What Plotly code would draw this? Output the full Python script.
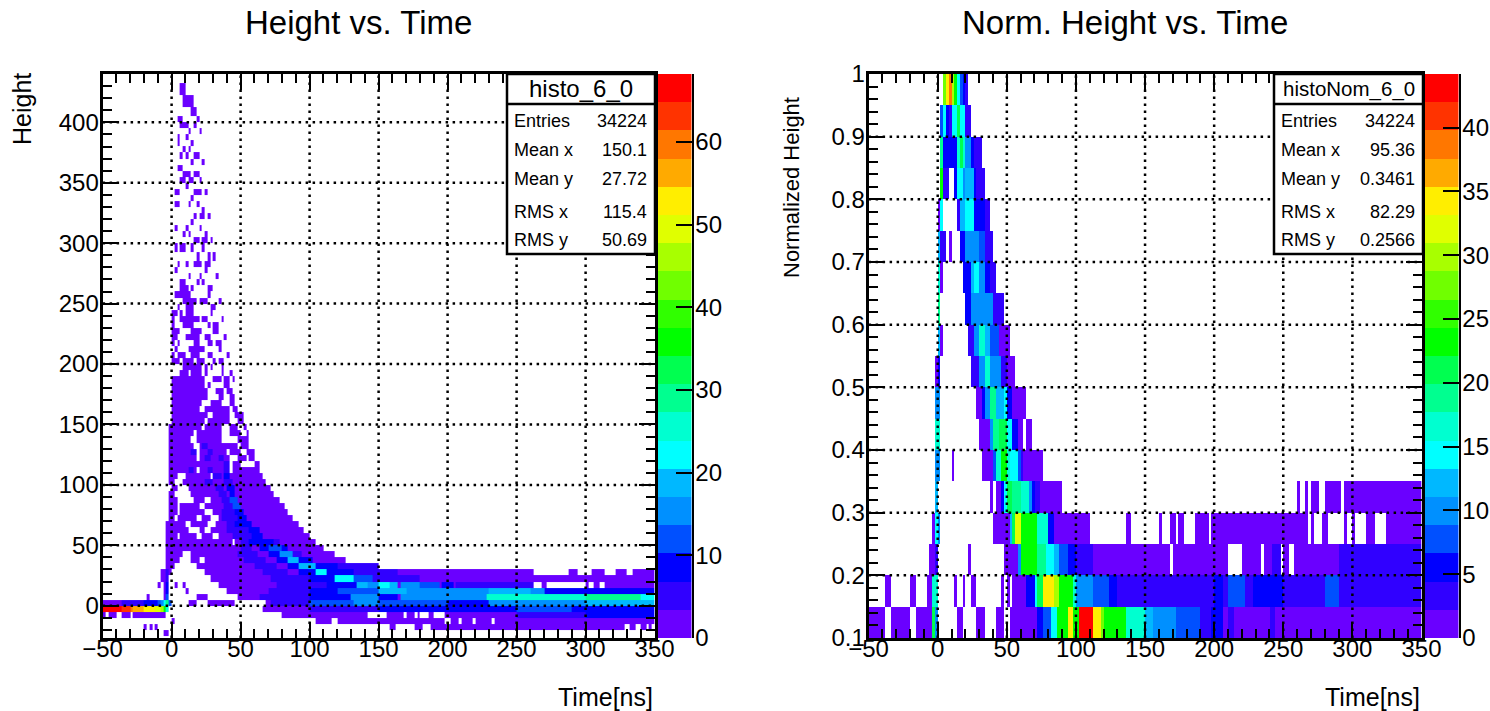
import plotly.graph_objects as go

PALETTE = ["#6a00ff","#3000ff","#0000ff","#0050ff","#0090ff","#00b8ff","#00ffff","#00ffd0","#00ff90","#00ff50",
           "#00ff00","#30ff00","#70ff00","#a8ff00","#e0ff00","#ffee00","#ffaa00","#ff7700","#ff3300","#ff0000"]
X_TICKS = [-50,0,50,100,150,200,250,300,350]
LEFT_Y_TICKS = [0,50,100,150,200,250,300,350,400]
RIGHT_Y_TICKS = [0.1,0.2,0.3,0.4,0.5,0.6,0.7,0.8,0.9,1.0]
RIGHT_Y_LABELS = ["0.1","0.2","0.3","0.4","0.5","0.6","0.7","0.8","0.9","1"]
LEFT_CB_TICKS = [0,10,20,30,40,50,60]
RIGHT_CB_TICKS = [0,5,10,15,20,25,30,35,40]
LEFT_STATS = [("Entries","34224"),("Mean x","150.1"),("Mean y","27.72"),("RMS x","115.4"),("RMS y","50.69")]
RIGHT_STATS = [("Entries","34224"),("Mean x","95.36"),("Mean y","0.3461"),("RMS x","82.29"),("RMS y","0.2566")]

# Left histogram: y-bin lower edge -> occupied (x from, x to) ns ranges, lowest occupancy
LEFT_ROWS = {
425:[(6,10)],415:[(10,14),(8,10),(12,16)],405:[(14,18)],400:[(4,6),(6,8),(18,20)],
395:[(6,12),(16,18)],390:[(12,14),(20,22)],385:[(4,6),(10,12)],380:[(4,6),(14,16)],
375:[(8,10),(12,14)],370:[(6,8),(10,12),(16,20)],365:[(14,16),(22,24)],360:[(4,8)],
355:[(8,14),(16,20)],350:[(6,10),(12,16),(20,22)],345:[(10,12)],340:[(2,6),(16,22),(24,26)],
335:[(14,16)],330:[(2,6),(12,14),(18,20)],325:[(22,24)],320:[(16,18),(20,24),(26,28)],
315:[(14,16)],310:[(2,4),(10,12),(20,22)],305:[(8,10),(12,14),(24,26)],
300:[(16,20),(22,26),(28,30)],295:[(2,4),(6,10),(14,16),(22,24)],
285:[(18,20),(26,28),(30,32)],280:[(4,6),(10,12),(16,22),(24,28)],275:[(2,4),(24,26)],
270:[(12,14),(20,22),(32,34)],265:[(6,10),(18,20),(22,24)],260:[(6,12),(14,16),(26,30)],
255:[(2,14),(26,28)],250:[(8,18),(20,26),(34,36)],245:[(4,6),(10,16),(28,32)],
240:[(0,4),(6,8),(10,16),(28,30)],235:[(0,2),(6,20),(22,26),(36,38)],
230:[(0,2),(8,16),(26,28),(30,34)],225:[(0,6),(14,22),(30,34)],
220:[(0,4),(10,20),(24,28),(38,40)],215:[(0,2),(4,6),(16,20),(26,30),(32,36)],
210:[(2,4),(12,24),(34,36)],205:[(0,2),(4,10),(14,20),(26,30),(40,42)],
200:[(0,6),(8,16),(18,24),(30,32),(34,38)],195:[(8,22),(24,26),(28,30),(36,38)],
190:[(6,12),(14,23),(24,26),(36,38),(42,44)],185:[(0,24),(30,36),(38,42),(44,46)],
180:[(0,24),(26,28),(38,42)],175:[(0,26),(32,38),(40,44)],170:[(0,26),(34,38),(42,46)],
165:[(0,22),(28,36),(42,46)],160:[(0,20),(24,42),(44,48)],155:[(0,26),(30,42),(46,52)],
150:[(0,24),(26,42),(48,52)],145:[(-2,22),(24,36),(42,48),(52,54)],
140:[(-2,16),(18,36),(42,50),(54,56)],135:[(-2,14),(18,36),(48,56)],
130:[(-2,16),(20,48),(50,56)],125:[(-2,18),(20,40),(42,50),(54,60)],
120:[(-2,18),(20,42),(48,54),(56,60)],115:[(-2,42),(44,50),(60,64)],
110:[(-2,18),(20,42),(44,64)],105:[(-2,4),(10,28),(30,66)],100:[(-2,2),(8,68)],
95:[(0,4),(12,72)],90:[(-2,2),(14,74)],85:[(-2,4),(16,24),(28,78)],
80:[(-2,4),(6,20),(24,26),(26,82)],75:[(-2,4),(6,24),(30,84)],70:[(-2,2),(4,18),(22,28),(34,88)],
65:[(-4,10),(14,26),(32,92)],60:[(-4,12),(20,24),(28,96)],55:[(-4,4),(6,18),(22,30),(34,100)],
50:[(-4,44),(46,104)],45:[(-4,110)],40:[(-4,8),(14,118)],35:[(-4,6),(14,20),(24,126)],
30:[(-4,2),(18,150)],25:[(-8,0),(24,262),(288,294),(304,314),(322,330),(334,350)],
20:[(-8,-2),(28,350)],
15:[(-10,-8),(-6,-2),(2,4),(8,10),(34,262),(268,272),(300,302),(306,310),(314,350)],
10:[(-6,-2),(10,12),(40,350)],5:[(-6,-2),(-18,-16),(18,26),(48,350)],
0:[(-50,0),(12,18),(26,46),(68,350)],-5:[(-50,-2),(66,350)],
-10:[(-50,-48),(-46,-40),(-36,-30),(-28,-4),(80,143),(156,168),(170,176),(178,180),(186,190),(197,350)],
-15:[(0,2),(104,116),(120,199),(201,208),(210,218),(220,232),(234,350)],
-20:[(-20,-18),(-16,-14),(-12,-10),(158,162),(175,182),(188,328),(332,336),(340,344),(346,348)],
-25:[(-6,-2)],
}
# Left histogram: (y-bin lower edge, x from, x to, count) where occupancy is moderately higher
LEFT_MID = [
(125,14,18,5),(120,24,28,5),(110,12,16,5),(110,26,30,5),(105,30,36,5),(100,24,30,5),(95,32,38,5),(90,34,40,5),
(85,36,42,5),(80,38,44,5),(80,20,24,5),(75,36,46,5),(70,36,48,5),(65,40,50,5),(60,40,56,5),(55,44,58,5),
(50,50,64,5),(45,50,58,5),(40,48,62,5),(35,52,68,5),(30,60,76,5),(25,66,84,5),(20,72,88,5),(15,76,92,5),
(10,70,84,5),(5,64,76,5),(65,46,50,9),(50,56,64,9),(45,64,70,9),(40,70,78,9),(35,76,84,9),(30,84,92,9),(25,92,104,9),
]
# Left histogram: (y-bin lower edge, x from, x to, count) where occupancy is higher
LEFT_HIGH = [
(0,-50,-36,2),(0,-36,-20,5),(0,-20,-10,9),(0,-10,-8,12),(0,-8,-6,15),(0,-6,-4,22),(0,-4,-2,29),(0,-2,0,12),
(-5,-50,-36,66),(-5,-36,-30,63),(-5,-30,-28,60),(-5,-28,-20,56),(-5,-20,-12,53),(-5,-12,-8,50),(-5,-8,-6,46),(-5,-6,-4,36),(-5,-4,-2,26),
(5,-4,-2,12),(10,-4,-2,9),(15,-4,-2,9),(20,-4,-2,5),(25,-4,-2,5),
(130,22,26,5),(125,26,30,5),(120,34,38,5),(115,38,42,5),(110,38,44,5),(105,38,42,9),(100,38,44,5),
(95,40,46,9),(90,42,46,9),(85,42,48,12),(80,44,50,12),(75,46,52,9),(70,48,54,9),(65,50,58,9),
(60,56,64,9),(55,58,66,9),(50,64,74,9),(50,74,78,5),(45,70,80,12),(45,80,84,9),
(40,78,88,15),(40,88,94,5),(35,84,92,19),(35,92,102,9),
(30,92,104,19),(30,104,120,9),(30,120,150,5),
(25,104,112,22),(25,112,132,9),(25,132,150,5),(25,150,164,5),
(20,88,100,5),(20,100,118,9),(20,118,132,22),(20,132,146,12),(20,146,180,5),
(15,92,112,5),(15,112,134,9),(15,134,142,19),(15,142,150,15),(15,150,158,22),(15,158,165,19),(15,165,180,15),(15,180,195,12),(15,195,205,9),(15,205,262,5),
(10,84,100,5),(10,100,120,9),(10,120,150,12),(10,150,170,19),(10,170,230,15),(10,230,260,19),(10,260,270,15),(10,270,350,9),
(5,76,100,5),(5,100,130,9),(5,130,150,15),(5,150,165,9),(5,165,180,15),(5,180,228,15),(5,228,250,26),(5,250,300,26),(5,300,340,29),(5,340,350,22),
(0,72,100,5),(0,100,132,12),(0,132,150,15),(0,150,200,12),(0,200,230,9),(0,230,250,15),(0,250,300,15),(0,300,350,19),
(-5,100,150,5),(-5,150,250,9),(-5,250,290,12),(-5,290,350,9),
(-10,250,300,5),(-10,300,350,9),
]

# Right histogram: y-bin lower edge -> (x from, x to, count)
RIGHT_ROWS = {
0.10:[(-50,-38,1),(-34,-20,1),(-16,-4,1),(-4,-2,21),(-2,0,10),(14,18,1),(28,34,1),(42,48,1),(52,72,1),(72,76,6),(76,82,8),
      (82,86,14),(86,94,23),(94,98,34),(98,102,23),(102,112,43),(112,118,34),(118,120,28),(120,136,23),(136,150,17),(150,156,12),
      (156,172,10),(172,190,8),(190,198,3),(198,206,6),(206,210,1),(210,214,3),(214,240,1),(240,244,3),(244,350,1)],
0.15:[(-38,-34,1),(-20,-16,1),(-8,-4,1),(-4,0,17),(12,14,1),(18,20,1),(24,28,1),(46,48,1),(50,52,1),(54,64,1),(64,70,6),(70,72,14),
      (72,76,21),(76,84,34),(84,88,30),(88,98,23),(98,100,17),(100,112,10),(112,124,8),(124,130,6),(130,200,3),(200,206,6),(206,210,3),
      (210,222,8),(222,228,3),(228,250,6),(250,280,3),(280,290,8),(290,350,3)],
0.20:[(-6,-2,1),(-2,0,3),(22,24,1),(48,58,1),(58,60,10),(60,72,23),(72,78,19),(78,84,14),(84,88,12),(88,94,8),(94,100,6),(100,112,3),
      (112,168,1),(169,210,1),(220,235,1),(236,242,1),(242,248,3),(250,254,1),(258,290,1),(290,350,3)],
0.25:[(-4,-2,1),(-2,0,14),(0,2,10),(40,52,1),(52,54,12),(54,56,21),(56,60,32),(60,72,23),(72,80,17),(80,84,6),(84,110,1),(136,140,1),
      (160,162,1),(168,172,1),(174,178,1),(186,196,1),(198,262,1),(262,268,1),(270,272,1),(278,282,1),(294,296,1),(300,302,1),(310,316,1),(324,350,1)],
0.30:[(-2,0,12),(38,40,1),(42,46,1),(46,48,6),(48,50,14),(50,54,21),(54,60,19),(60,66,17),(66,68,10),(68,70,6),(70,74,3),(74,90,1),
      (260,262,1),(266,268,1),(270,276,1),(280,292,1),(294,350,1)],
0.35:[(-2,2,10),(10,12,1),(32,40,1),(40,42,8),(42,46,17),(46,50,23),(50,52,17),(52,58,14),(58,60,8),(60,62,3),(62,76,1)],
0.40:[(-2,2,17),(30,38,1),(38,40,10),(40,44,19),(44,50,21),(50,54,14),(54,58,6),(58,62,1),(64,68,1)],
0.45:[(-2,2,10),(28,32,1),(32,34,6),(34,38,10),(38,42,19),(42,48,12),(48,50,14),(50,54,6),(54,64,1)],
0.50:[(-2,0,1),(0,2,6),(24,30,3),(30,34,10),(34,38,17),(38,46,10),(46,50,3),(50,56,1)],
0.55:[(0,2,12),(2,4,1),(22,26,3),(26,30,10),(30,34,17),(34,38,12),(38,44,8),(44,52,1)],
0.60:[(0,2,19),(20,24,6),(24,40,10),(40,48,3)],
0.65:[(0,2,17),(2,4,1),(18,24,6),(24,26,12),(26,30,14),(30,34,10),(34,38,6),(38,42,3)],
0.70:[(0,2,12),(2,6,3),(8,10,1),(16,20,6),(20,30,10),(30,34,8),(34,40,3)],
0.75:[(0,2,1),(2,4,14),(14,16,3),(16,20,12),(20,26,14),(26,34,6),(34,38,3)],
0.80:[(2,4,23),(4,8,3),(12,14,6),(14,18,14),(18,20,10),(20,26,12),(26,28,6),(28,34,3)],
0.85:[(2,4,19),(4,12,6),(12,14,6),(14,16,17),(16,18,21),(18,20,17),(20,24,10),(24,26,6),(26,32,3)],
0.90:[(2,4,8),(4,6,14),(6,8,6),(8,10,3),(10,14,14),(14,16,21),(16,20,14),(20,24,3)],
0.95:[(4,6,28),(6,8,34),(8,10,39),(10,12,30),(12,14,23),(14,16,14),(16,18,8),(18,20,6),(20,22,3)],
}

X_CENTRES = [-49 + 2*i for i in range(200)]
W, H = 1490, 711
TOP, BOTTOM = 74, 638

def fx(p): return p / W
def fy(p): return 1 - p / H

def put(row, x0, x1, v):
    for i in range(200):
        if x0 <= X_CENTRES[i] - 1 and X_CENTRES[i] + 1 <= x1 + 0.99:
            row[i] = v

left_bases = sorted(LEFT_ROWS)
left_z = []
for b in left_bases:
    row = [None]*200
    for a, c in LEFT_ROWS[b]:
        put(row, a, c, 2)
    for bb, a, c, v in LEFT_MID + LEFT_HIGH:
        if bb == b:
            saved = list(row)
            put(row, a, c, v)
            for i in range(200):
                if saved[i] is None:
                    row[i] = None
    left_z.append(row)

right_bases = sorted(RIGHT_ROWS)
right_z = []
for b in right_bases:
    row = [None]*200
    for a, c, v in RIGHT_ROWS[b]:
        put(row, a, c, v)
    right_z.append(row)

scale = []
for i, c in enumerate(PALETTE):
    scale += [[i/20, c], [(i+1)/20, c]]

FONT24 = dict(size=24, color="black", family="Liberation Sans")

fig = go.Figure()
fig.add_trace(go.Heatmap(x=X_CENTRES, y=[b+2.5 for b in left_bases], z=left_z, zmin=0, zmax=68.2,
                         colorscale=scale, showscale=False, xaxis="x", yaxis="y", hoverongaps=False))
fig.add_trace(go.Heatmap(x=X_CENTRES, y=[b+0.025 for b in right_bases], z=right_z, zmin=0, zmax=44.2,
                         colorscale=scale, showscale=False, xaxis="x2", yaxis="y2", hoverongaps=False))
# colour keys: one cell for each of the 20 contour levels
for top, xa, ya in [(68.2, "x3", "y3"), (44.2, "x4", "y4")]:
    mids = [(i + 0.5) * top / 20 for i in range(20)]
    fig.add_trace(go.Heatmap(x=[0], y=mids, z=[[m] for m in mids], zmin=0, zmax=top, colorscale=scale,
                             showscale=False, xaxis=xa, yaxis=ya))

def ax(**kw):
    d = dict(automargin=False, showline=True, linecolor="black", linewidth=3, mirror="allticks", ticks="inside", ticklen=16,
             tickwidth=2, tickcolor="black", showgrid=False, zeroline=False, tickfont=FONT24, layer="above traces")
    d.update(kw)
    return d

def key_y(top, ticks, anchor):
    return dict(automargin=False, domain=[fy(BOTTOM), fy(TOP)], range=[0, top], side="right", anchor=anchor, tickvals=ticks,
                ticks="inside", ticklen=16, tickwidth=2, tickcolor="black", showline=True, linecolor="black", linewidth=2,
                showgrid=False, zeroline=False, layer="above traces", tickfont=FONT24, ticklabelstandoff=-3)

def key_x(a, b, anchor):
    return dict(domain=[fx(a), fx(b)], anchor=anchor, visible=False)

minor_x = dict(ticks="inside", ticklen=9, tickwidth=2, tickcolor="black", dtick=10, tick0=0, showgrid=False)
fig.update_layout(
    template="none", width=W, height=H, margin=dict(l=0, r=0, t=0, b=0, pad=0), paper_bgcolor="white", plot_bgcolor="white",
    showlegend=False, font=dict(family="Liberation Sans", color="black"),
    xaxis=ax(domain=[fx(102.6), fx(654.6)], range=[-50, 350], tickvals=X_TICKS, anchor="y", minor=minor_x, ticklabelstandoff=-13),
    yaxis=ax(domain=[fy(BOTTOM), fy(TOP)], range=[-26.7, 440], tickvals=LEFT_Y_TICKS, anchor="x", ticklabelstandoff=-4,
             minor=dict(ticks="inside", ticklen=9, tickwidth=2, tickcolor="black", dtick=10, tick0=0, showgrid=False)),
    xaxis2=ax(domain=[fx(868.6), fx(1421.5)], range=[-50, 350], tickvals=X_TICKS, anchor="y2", minor=minor_x, ticklabelstandoff=-13),
    yaxis2=ax(domain=[fy(BOTTOM), fy(TOP)], range=[0.1, 1.0], tickvals=RIGHT_Y_TICKS, ticktext=RIGHT_Y_LABELS, anchor="x2",
              ticklabelstandoff=-4,
              minor=dict(ticks="inside", ticklen=9, tickwidth=2, tickcolor="black", dtick=0.02, tick0=0.1, showgrid=False)),
    xaxis3=key_x(658, 691.5, "y3"), yaxis3=key_y(68.2, LEFT_CB_TICKS, "x3"),
    xaxis4=key_x(1425, 1458.5, "y4"), yaxis4=key_y(44.2, RIGHT_CB_TICKS, "x4"),
)

shapes = []
dot = dict(color="black", width=2.5, dash="2.5px,4.5px")
for xn, yn, yticks, lo, hi in [("x", "y", LEFT_Y_TICKS, -26.7, 440), ("x2", "y2", RIGHT_Y_TICKS[1:-1], 0.1, 1.0)]:
    for t in X_TICKS[1:-1]:
        shapes.append(dict(type="line", xref=xn, yref=yn, x0=t, x1=t, y0=lo, y1=hi, line=dot, layer="above"))
    for t in yticks:
        shapes.append(dict(type="line", xref=xn, yref=yn, x0=-50, x1=350, y0=t, y1=t, line=dot, layer="above"))

annos = []
def text(x, y, s, size, anchor="left", angle=0):
    annos.append(dict(x=fx(x), y=fy(y), xref="paper", yref="paper", text=s, showarrow=False, xanchor=anchor,
                      yanchor="middle", textangle=angle, font=dict(size=size, color="black", family="Liberation Sans")))

ROW_Y = [121, 150, 179, 212, 240]
for x0, x1, title, stats, tsize in [(507, 655, "histo_6_0", LEFT_STATS, 24), (1274, 1423, "histoNom_6_0", RIGHT_STATS, 20.5)]:
    shapes.append(dict(type="rect", xref="paper", yref="paper", x0=fx(x0), x1=fx(x1), y0=fy(254), y1=fy(74),
                       fillcolor="white", line=dict(color="black", width=2.5), layer="above"))
    shapes.append(dict(type="line", xref="paper", yref="paper", x0=fx(x0), x1=fx(x1), y0=fy(104), y1=fy(104),
                       line=dict(color="black", width=2.5), layer="above"))
    text((x0+x1)/2, 89, title, tsize, "center")
    for (k, v), ry in zip(stats, ROW_Y):
        text(x0+5, ry, k, 18)
        text(x1-6, ry, v, 18, "right")

text(358, 22, "Height vs. Time", 33, "center")
text(1125, 22, "Norm. Height vs. Time", 33, "center")
text(655, 697, "Time[ns]", 25, "right")
text(1422, 697, "Time[ns]", 25, "right")
text(22, 109, "Height", 25, "center", -90)
text(791, 188, "Normalized Height", 22, "center", -90)
fig.update_layout(shapes=shapes, annotations=annos)

fig.write_html("out.html", config={"displayModeBar": False},
               post_script="document.body.style.margin='0';document.body.style.overflow='hidden';")
